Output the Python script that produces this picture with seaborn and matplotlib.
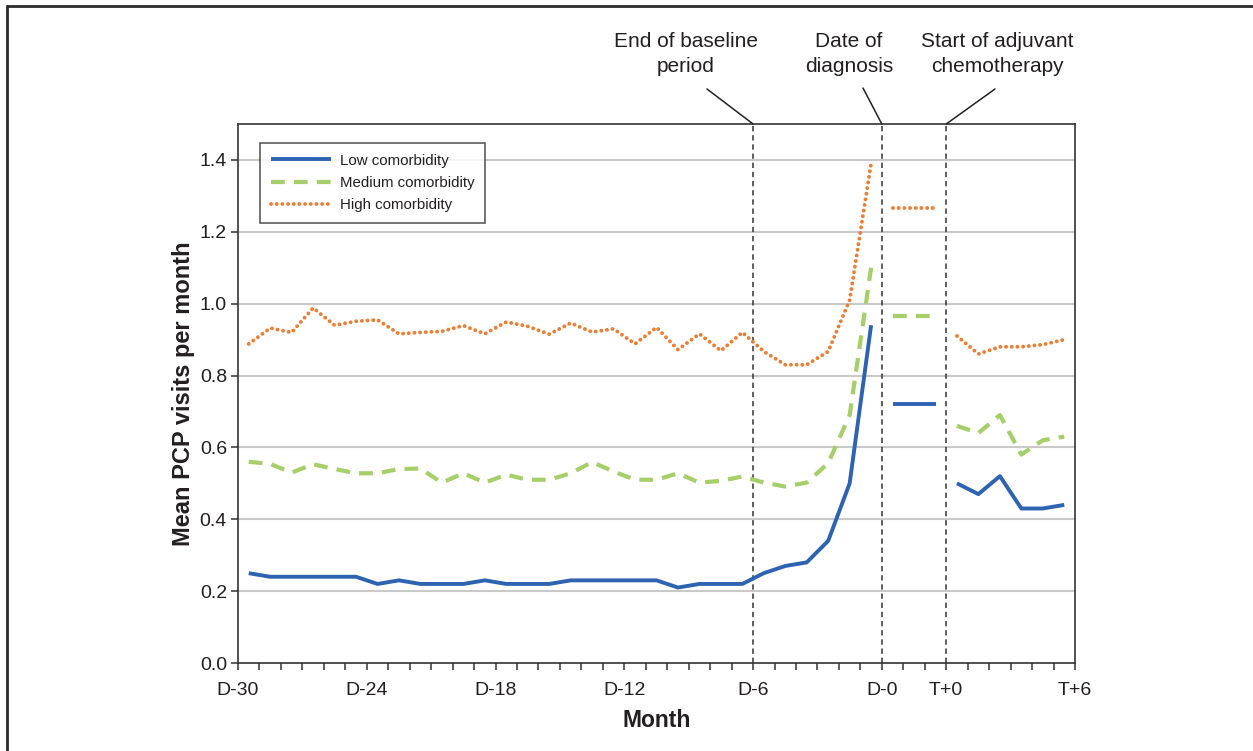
import matplotlib
matplotlib.use("Agg")
import matplotlib.pyplot as plt
from matplotlib.lines import Line2D
import numpy as np
import pandas as pd
import seaborn as sns

# ---------------- data ----------------
series_names = ["Low comorbidity", "Medium comorbidity", "High comorbidity"]

# monthly values before diagnosis (D-30 ... D-1)
low_pre = [0.25, 0.24, 0.24, 0.24, 0.24, 0.24, 0.22, 0.23, 0.22, 0.22,
           0.22, 0.23, 0.22, 0.22, 0.22, 0.23, 0.23, 0.23, 0.23, 0.23,
           0.21, 0.22, 0.22, 0.22, 0.25, 0.27, 0.28, 0.34, 0.50, 0.94]
med_pre = [0.560, 0.554, 0.530, 0.553, 0.540, 0.528, 0.528, 0.540, 0.541, 0.502,
           0.528, 0.502, 0.524, 0.510, 0.510, 0.528, 0.559, 0.533, 0.510, 0.510,
           0.528, 0.502, 0.507, 0.519, 0.502, 0.491, 0.502, 0.556, 0.69, 1.10]
high_pre = [0.888, 0.932, 0.920, 0.988, 0.940, 0.951, 0.955, 0.916, 0.920, 0.923,
            0.939, 0.916, 0.949, 0.937, 0.915, 0.946, 0.921, 0.930, 0.888, 0.934,
            0.872, 0.916, 0.869, 0.920, 0.867, 0.830, 0.830, 0.867, 1.01, 1.39]

# period between diagnosis and start of chemotherapy
low_mid = 0.72
med_mid = 0.965
high_mid = 1.265

# monthly values after start of chemotherapy (T+0 ... T+5)
low_post = [0.50, 0.47, 0.52, 0.43, 0.43, 0.44]
med_post = [0.66, 0.64, 0.69, 0.58, 0.62, 0.63]
high_post = [0.91, 0.86, 0.88, 0.88, 0.886, 0.90]

tick_labels = ["D-30", "D-24", "D-18", "D-12", "D-6", "D-0", "T+0", "T+6"]
event_labels = ["End of baseline\nperiod", "Date of\ndiagnosis", "Start of adjuvant\nchemotherapy"]

# ---------------- layout helpers ----------------
n_pre = len(low_pre)          # 30 months before diagnosis
gap = 3                       # months shown between diagnosis and chemo
n_post = len(low_post)
tick_pos = [0, 6, 12, 18, 24, n_pre, n_pre + gap, n_pre + gap + 6]
event_pos = [24, n_pre, n_pre + gap]

x_pre = np.arange(n_pre) + 0.5
x_mid = np.array([n_pre + 0.5, n_pre + gap - 0.5])
x_post = n_pre + gap + np.arange(n_post) + 0.5

colors = ["#2E63B2", "#A6CE69", "#EE7D31"]
styles = [
    dict(linestyle="-", lw=2.8, solid_capstyle="butt"),
    dict(linestyle=(0, (3.3, 2.2)), lw=3.0, dash_capstyle="butt"),
    dict(linestyle=(0, (0.01, 1.45)), lw=2.8, dash_capstyle="round"),
]
pre = [low_pre, med_pre, high_pre]
mid = [low_mid, med_mid, high_mid]
post = [low_post, med_post, high_post]

# ---------------- figure ----------------
sns.set_style("white")
plt.rcParams["font.family"] = ["Liberation Sans", "DejaVu Sans"]
text_color = "#231F20"

fig = plt.figure(figsize=(12.53, 7.51), dpi=100)
ax = fig.add_axes([238 / 1253, 88 / 751, (1075 - 238) / 1253, (663 - 124) / 751])

for yv in [0.2, 0.4, 0.6, 0.8, 1.0, 1.2, 1.4]:
    ax.axhline(yv, color="#C9C9C9", lw=1.5, zorder=0)

for i in range(3):
    for xs, ys in [(x_pre, pre[i]), (x_mid, [mid[i], mid[i]]), (x_post, post[i])]:
        sns.lineplot(x=xs, y=ys, ax=ax, color=colors[i], legend=False,
                     estimator=None, sort=False, zorder=3, **styles[i])

for xp in event_pos:
    ax.axvline(xp, color="#333333", lw=1.1, linestyle=(0, (3.5, 2.5)), zorder=2)

ax.set_xlim(0, tick_pos[-1])
ax.set_ylim(0, 1.5)
yt = [0.0, 0.2, 0.4, 0.6, 0.8, 1.0, 1.2, 1.4]
ax.set_yticks(yt)
ax.set_yticklabels([f"{v:.1f}" for v in yt])
ax.set_xticks(tick_pos)
ax.set_xticklabels(tick_labels)
ax.set_xticks(np.arange(0, tick_pos[-1] + 1), minor=True)
ax.tick_params(axis="both", which="both", direction="out", length=5, width=1.1,
               color="#333333", labelsize=14, labelcolor=text_color,
               bottom=True, left=True, top=False, right=False)
ax.tick_params(axis="y", which="minor", length=0)
ax.tick_params(axis="y", which="major", pad=3)
ax.tick_params(axis="x", which="major", pad=9)
for s in ax.spines.values():
    s.set_visible(True)
    s.set_color("#333333")
    s.set_linewidth(1.2)

ax.set_xlabel("Month", fontsize=16.5, fontweight="bold", color=text_color, labelpad=7)
ax.set_ylabel("Mean PCP visits per month", fontsize=17, fontweight="bold",
              color=text_color, labelpad=3)

# legend
handles = [Line2D([0], [0], color=colors[i], **styles[i]) for i in range(3)]
leg = ax.legend(handles, series_names, loc="upper left",
                bbox_to_anchor=(22 / 837, (663 - 143) / 539), borderaxespad=0,
                fontsize=10.8, handlelength=4.0, frameon=True, fancybox=False,
                borderpad=0.7, labelspacing=0.55, handletextpad=0.6)
leg.get_frame().set_edgecolor("#222222")
leg.get_frame().set_linewidth(1.1)
for t in leg.get_texts():
    t.set_color(text_color)

# event annotations
text_xy = [(686, 54), (849, 54), (997, 54)]
line_start = [(707, 89), (863, 88), (995, 89)]
for lab, xp, (tx, ty), (lx, ly) in zip(event_labels, event_pos, text_xy, line_start):
    fx, fy = tx / 1253, 1 - ty / 751
    fig.text(fx, fy, lab, ha="center", va="center", fontsize=15, color=text_color,
             linespacing=1.45)
    ax.annotate("", xy=(xp, 1.5), xycoords="data",
                xytext=(lx / 1253, 1 - ly / 751), textcoords="figure fraction",
                arrowprops=dict(arrowstyle="-", color="#222222", lw=1.1,
                                shrinkA=0, shrinkB=0), annotation_clip=False)

# outer frame (top and left edges)
fig.add_artist(Line2D([7 / 1253, 1], [1 - 6 / 751, 1 - 6 / 751], color="#2A2A2A", lw=2))
fig.add_artist(Line2D([7 / 1253, 7 / 1253], [0, 1 - 6 / 751], color="#2A2A2A", lw=2))

fig.savefig("out.png", dpi=100, facecolor="white")
